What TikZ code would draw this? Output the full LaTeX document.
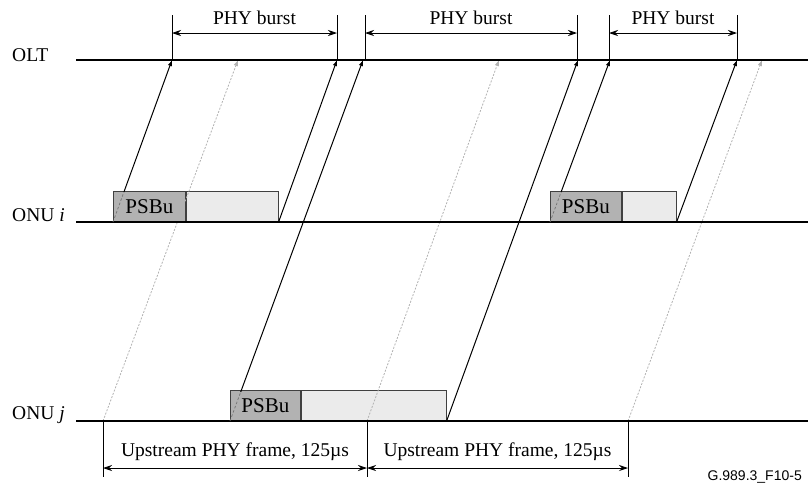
\documentclass[tikz,border=0pt]{standalone}
\usepackage{fontspec}
\setmainfont{Liberation Serif}
\newfontfamily\figsans{Liberation Sans}
\usetikzlibrary{arrows.meta,calc}
\begin{document}
\begin{tikzpicture}[x=1pt,y=-1pt,
  timeline/.style={line width=2.6pt,black},
  sig/.style={line width=1pt,-{Latex[length=6pt,width=4.5pt]}},
  inbox/.style={line width=0.7pt,black!55,dash pattern=on 2.5pt off 2pt},
  ghost/.style={line width=0.8pt,black!30,dash pattern=on 2pt off 1.5pt,-{Latex[length=6pt,width=4.5pt,fill=black!30]}},
  tickline/.style={line width=0.8pt},
  span/.style={line width=0.8pt,{Stealth[length=9pt,width=6pt,inset=3pt]}-{Stealth[length=9pt,width=6pt,inset=3pt]}},
  lbl/.style={font=\fontsize{19.5}{22}\selectfont,inner sep=0pt},
  psbu/.style={draw=black!75,line width=0.8pt,fill=black!30,minimum height=30pt,inner sep=0pt,anchor=south west,font=\fontsize{21}{24}\selectfont},
  payload/.style={draw=black!75,line width=0.8pt,fill=black!8,minimum height=30pt,inner sep=0pt,anchor=south west}
]
\useasboundingbox (0,0) rectangle (808,491);

% timeline end points
\coordinate (olts) at (76,60);  \coordinate (olte) at (808,60);
\coordinate (onuis) at (76,222); \coordinate (onuie) at (808,222);
\coordinate (onujs) at (76,421); \coordinate (onuje) at (808,421);

% labels
\node[lbl,anchor=west] (lolt) at (12,55) {OLT};
\node[lbl,anchor=west] (loni) at (12,215) {ONU \textit{i}};
\node[lbl,anchor=west] (lonj) at (12,415) {ONU \textit{j}};

% arrival points on OLT
\coordinate (a1) at (172,60);
\coordinate (a2) at (337,60);
\coordinate (a3) at (363,60);
\coordinate (a4) at (578,60);
\coordinate (a5) at (610,60);
\coordinate (a6) at (737,60);
\coordinate (g1) at (238,60);
\coordinate (g2) at (499,60);
\coordinate (g3) at (762,60);

% frame boundaries on ONU j
\coordinate (f1) at (103,421);
\coordinate (f2) at (367,421);
\coordinate (f3) at (628,421);

% bursts
\node[psbu,minimum width=72pt] (p1) at (113,222) {PSBu};
\node[payload,minimum width=92pt] (d1) at (p1.south east) {};
\node[psbu,minimum width=71pt] (p2) at (550,222) {PSBu};
\node[payload,minimum width=54pt] (d2) at (p2.south east) {};
\node[psbu,minimum width=70pt] (p3) at (230,421) {PSBu};
\node[payload,minimum width=145pt] (d3) at (p3.south east) {};

% ghost (frame start) lines
\draw[ghost] (f1) -- (g1);
\draw[ghost] (f2) -- (g2);
\draw[ghost] (f3) -- (g3);

% timelines
\draw[timeline] (olts) -- (olte);
\draw[timeline] (onuis) -- (onuie);
\draw[timeline] (onujs) -- (onuje);

% signal lines
\coordinate (c1) at ($(p1.south west)!0.185!(a1)$);
\coordinate (c2) at ($(p2.south west)!0.185!(a5)$);
\coordinate (c3) at ($(p3.south west)!0.0803!(a3)$);
\draw[inbox] (p1.south west) -- (c1);
\draw[inbox] (p2.south west) -- (c2);
\draw[inbox] (p3.south west) -- (c3);
\draw[sig] (c1) -- (a1);
\draw[sig] (d1.south east) -- (a2);
\draw[sig] (c3) -- (a3);
\draw[sig] (d3.south east) -- (a4);
\draw[sig] (c2) -- (a5);
\draw[sig] (d2.south east) -- (a6);

% PHY burst spans
\foreach \n/\x in {t1/172,t2/337,t3/365,t4/577,t5/609,t6/737}{
  \coordinate (\n top) at (\x,15);
  \coordinate (\n bot) at (\x,60);
  \coordinate (\n mid) at (\x,33);
  \draw[tickline] (\n top) -- (\n bot);
}
\draw[span] (t1mid) -- (t2mid);
\draw[span] (t3mid) -- (t4mid);
\draw[span] (t5mid) -- (t6mid);
\node[lbl] (b1) at ($(t1mid)!0.5!(t2mid)+(0,-15)$) {PHY burst};
\node[lbl] (b2) at ($(t3mid)!0.5!(t4mid)+(0,-15)$) {PHY burst};
\node[lbl] (b3) at ($(t5mid)!0.5!(t6mid)+(0,-15)$) {PHY burst};

% Upstream frame spans
\foreach \n/\x in {u1/103,u2/367,u3/628}{
  \coordinate (\n top) at (\x,421);
  \coordinate (\n bot) at (\x,477);
  \coordinate (\n mid) at (\x,468);
  \draw[tickline] (\n top) -- (\n bot);
}
\draw[span] (u1mid) -- (u2mid);
\draw[span] (u2mid) -- (u3mid);
\node[lbl] (fr1) at ($(u1mid)!0.5!(u2mid)+(0,-16)$) {Upstream PHY frame, 125µs};
\node[lbl] (fr2) at ($(u2mid)!0.5!(u3mid)+(0,-16)$) {Upstream PHY frame, 125µs};

\node[font=\figsans\fontsize{14}{16}\selectfont,anchor=east,inner sep=0pt] (fig) at (802,477) {G.989.3\_F10-5};
\end{tikzpicture}
\end{document}
